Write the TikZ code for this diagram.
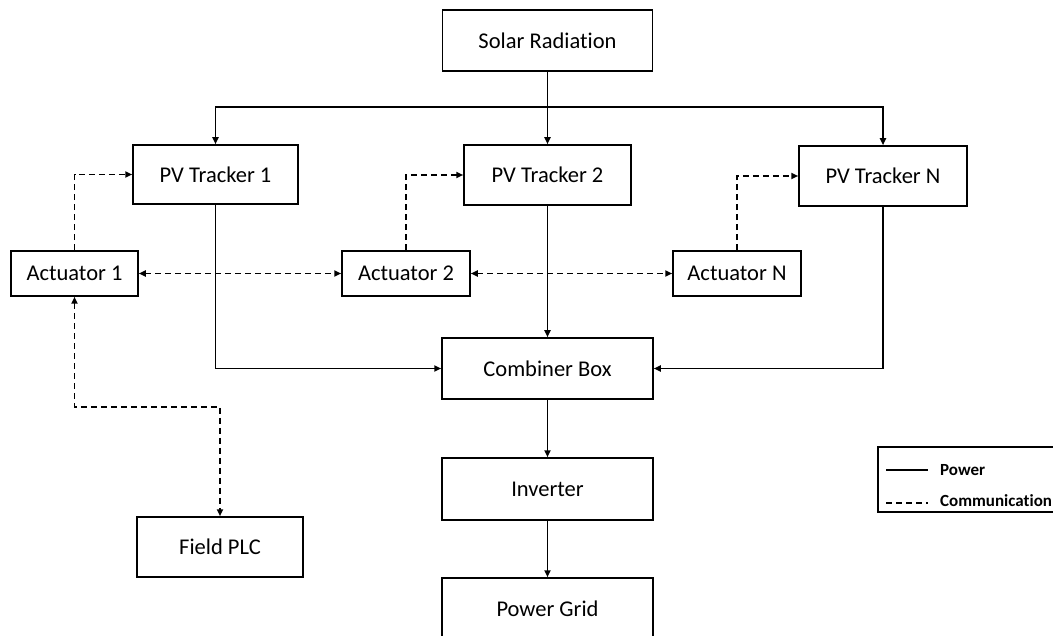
\documentclass[tikz,border=0pt]{standalone}
\usepackage{fontspec}
\setmainfont{Carlito}[Ligatures=NoCommon]
\usetikzlibrary{arrows.meta,calc}
\begin{document}
\begin{tikzpicture}[x=1pt,y=-1pt,
  box/.style={draw=black,line width=1.5pt,rectangle,inner sep=0pt,minimum width=#1,font=\fontsize{22.5}{25}\selectfont},
  box/.default=160pt,
  pw/.style={draw=black,line width=1.8pt},
  comm/.style={draw=black,line width=1.8pt,dash pattern=on 6pt off 4pt},
  tip/.style={-{Triangle[length=7pt,width=6pt]}},
  tips/.style={{Triangle[length=7pt,width=6pt]}-{Triangle[length=7pt,width=6pt]}},
  leg/.style={font=\fontsize{17}{20}\selectfont\bfseries,anchor=west,inner sep=0pt}
]
\useasboundingbox (0,0) rectangle (1053,636);
% nodes
\node[box=210pt,minimum height=61pt] (solar) at (547.5,40.5) {Solar Radiation};
\node[box=165pt,minimum height=59pt] (pv1) at (215.5,174.5) {PV Tracker 1};
\node[box=167pt,minimum height=60pt] (pv2) at (547.5,175) {PV Tracker 2};
\node[box=168pt,minimum height=60pt] (pvn) at (883,176) {PV Tracker N};
\node[box=127pt,minimum height=45pt] (act1) at (74.5,273.5) {Actuator 1};
\node[box=128pt,minimum height=45pt] (act2) at (406,273.5) {Actuator 2};
\node[box=128pt,minimum height=45pt] (actn) at (737,273.5) {Actuator N};
\node[box=211pt,minimum height=61pt] (comb) at (547.5,368.5) {Combiner Box};
\node[box=211pt,minimum height=62pt] (inv) at (547.5,489) {Inverter};
\node[box=211pt,minimum height=62pt] (grid) at (547.5,609) {Power Grid};
\node[box=166pt,minimum height=60pt] (plc) at (220,547) {Field PLC};
% power connectors
\coordinate (br) at (547.5,107);
\draw[pw,tip] (solar) -- (pv2);
\draw[pw,tip] (br) -| (pv1.north);
\draw[pw,tip] (br) -| (pvn.north);
\draw[pw,tip] (pv1.south) |- (comb.west);
\draw[pw,tip] (pv2) -- (comb);
\draw[pw,tip] (pvn.south) |- (comb.east);
\draw[pw,tip] (comb) -- (inv);
\draw[pw,tip] (inv) -- (grid);
% communication connectors
\draw[comm,tip] (act1.north) |- (pv1.west);
\draw[comm,tip] (act2.north) |- (pv2.west);
\draw[comm,tip] (actn.north) |- (pvn.west);
\draw[comm,tips] (act1.east) -- (act2.west);
\draw[comm,tips] (act2.east) -- (actn.west);
\coordinate (cb) at (220,407);
\draw[comm,tips] (act1.south) |- (cb) -- (plc.north);
% legend
\node[draw=black,line width=1.5pt,rectangle,minimum width=183pt,minimum height=65pt,inner sep=0pt,anchor=north west] (legend) at (877,446) {};
\coordinate (l1a) at (886,470); \coordinate (l1b) at (928,470);
\coordinate (l2a) at (886,503); \coordinate (l2b) at (928,503);
\draw[pw,line width=1.3pt] (l1a) -- (l1b);
\draw[comm,line width=1.3pt] (l2a) -- (l2b);
\node[leg] (lp) at (940,470) {Power};
\node[leg] (lc) at (940,501) {Communication};
\end{tikzpicture}
\end{document}
